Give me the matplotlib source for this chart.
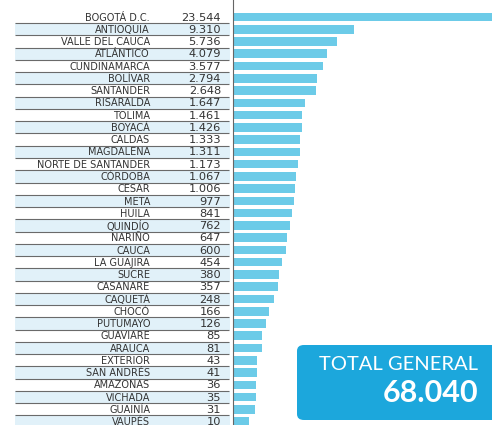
import matplotlib.pyplot as plt
from matplotlib.patches import FancyBboxPatch
import numpy as np

departamentos = ["BOGOTÁ D.C.", "ANTIOQUIA", "VALLE DEL CAUCA", "ATLÁNTICO", "CUNDINAMARCA",
                 "BOLÍVAR", "SANTANDER", "RISARALDA", "TOLIMA", "BOYACÁ", "CALDAS",
                 "MAGDALENA", "NORTE DE SANTANDER", "CÓRDOBA", "CESAR", "META", "HUILA",
                 "QUINDÍO", "NARIÑO", "CAUCA", "LA GUAJIRA", "SUCRE", "CASANARE", "CAQUETÁ",
                 "CHOCÓ", "PUTUMAYO", "GUAVIARE", "ARAUCA", "EXTERIOR", "SAN ANDRÉS",
                 "AMAZONAS", "VICHADA", "GUAINÍA", "VAUPÉS"]
casos = [23544, 9310, 5736, 4079, 3577, 2794, 2648, 1647, 1461, 1426, 1333,
         1311, 1173, 1067, 1006, 977, 841, 762, 647, 600, 454, 380, 357, 248,
         166, 126, 85, 81, 43, 41, 36, 35, 31, 10]
total_general = "68.040"

BAR = "#6ccbe8"
STRIPE = "#e1f1f9"
TEXT = "#333333"
BOX = "#1ca7dc"


def fmt(v):
    return f"{v:,}".replace(",", ".")


# compressed (power) scale like the infographic, the outlier runs off the edge
def fwd(v):
    v = np.clip(np.asarray(v, dtype=float), 0, None)
    return v ** 0.3 + (v / 15000.0) ** 6

grid = np.concatenate([[0], np.logspace(-3, 7, 6000)])
def inv(u):
    return np.interp(u, fwd(grid), grid)


W, H = 492, 425
fig = plt.figure(figsize=(W / 100, H / 100), dpi=100)
fig.patch.set_facecolor("white")

n = len(departamentos)
pitch = 12.26
y0 = 17.0
ylim = ((H - y0) / pitch, -y0 / pitch)
y = np.arange(n)

# table part
ax_t = fig.add_axes([0, 0, 233 / W, 1])
ax_t.set_xlim(0, 233)
ax_t.set_ylim(*ylim)
ax_t.axis("off")
odd = y[1::2]
ax_t.barh(odd, 215, left=15, height=1.0, color=STRIPE, zorder=0)
ax_t.hlines(y + 0.5, 15, 229, color="#6a6a6a", lw=0.8, zorder=1)
for i, (d, c) in enumerate(zip(departamentos, casos)):
    ax_t.text(150, i + 0.05, d, ha="right", va="center", fontsize=7, color=TEXT, zorder=2)
    ax_t.text(221, i + 0.05, fmt(c), ha="right", va="center", fontsize=8.2, color=TEXT, zorder=2)

# bars
ax = fig.add_axes([233 / W, 0, (W - 233) / W, 1])
ax.set_xscale("function", functions=(fwd, inv))
ax.barh(y, casos, height=0.7, color=BAR, zorder=2)
umax = fwd(9310) * (W - 233) / 121.0
ax.set_xlim(0, inv(umax))
ax.set_ylim(*ylim)
ax.set_xticks([])
ax.set_yticks([])
for s in ["top", "right", "bottom"]:
    ax.spines[s].set_visible(False)
ax.spines["left"].set_color("#666666")
ax.spines["left"].set_linewidth(0.8)
ax.patch.set_alpha(0)

# total box
box = FancyBboxPatch((297 / W, 5 / H), 210 / W, 75 / H,
                     boxstyle="round,pad=0,rounding_size=0.014",
                     transform=fig.transFigure, facecolor=BOX, edgecolor="none", zorder=5)
fig.patches.append(box)
fig.text(478 / W, 60 / H, "TOTAL GENERAL", ha="right", va="center", fontsize=14.5,
         family="Lato", fontweight="normal", color="white", zorder=6)
fig.text(478 / W, 32 / H, total_general, ha="right", va="center", fontsize=22,
         family="Lato", fontweight="bold", color="white", zorder=6)

fig.savefig("out.png", dpi=100, facecolor="white")
plt.close(fig)
